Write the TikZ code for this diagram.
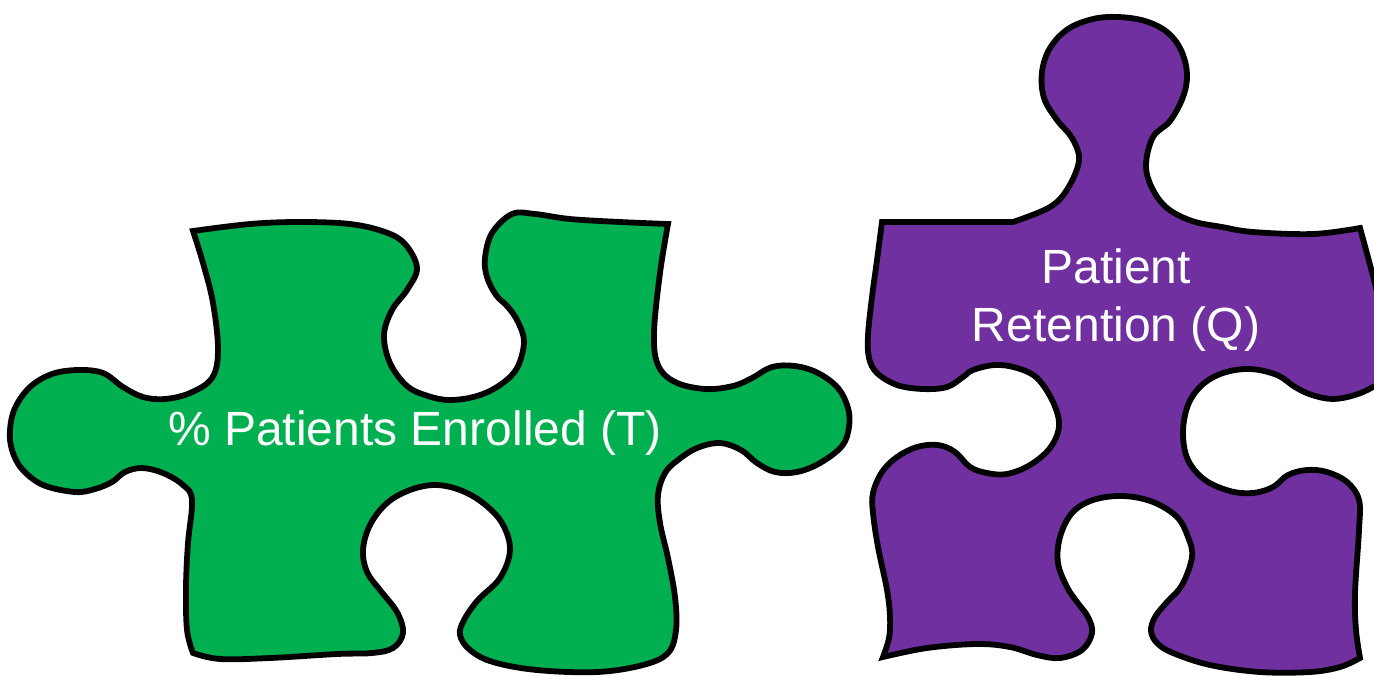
\documentclass[tikz,border=0pt]{standalone}
\usepackage{fontspec}
\setmainfont{Liberation Sans}
\definecolor{pgreen}{RGB}{0,176,80}
\definecolor{ppurple}{RGB}{112,48,160}
\tikzset{piece/.style={draw=black,line width=2.9pt,line join=miter,miter limit=10},
 edgecurve/.style={smooth,tension=0.6},
 lbl/.style={text=white,font=\fontsize{24pt}{29pt}\selectfont,align=center,inner sep=0pt}}
\begin{document}
\begin{tikzpicture}[x=0.5pt,y=-0.5pt]
\useasboundingbox (0,0) rectangle (1374,675);
\fill[white] (0,0) rectangle (1374,675);
\begin{scope}
\clip (0,0) rectangle (1374,675);
\path[piece,fill=pgreen]
 plot[edgecurve] coordinates {(193,231)(250,224)(300,222)(350,224)(385,232)(405,244)(417,268)(407,290)(392,310)(384,335)(390,363)(407,386)(428,396)(450,400)(477,396)(500,385)(517,368)(524,342)(518,322)(508,307)(496,295)(487,277)(485,258)(492,233)(512,214)(535,214)(570,219)(620,222)(668,224)}
 -- plot[edgecurve] coordinates {(668,224)(660,273)(654,333)(658,365)(675,382)(705,389)(733,386)(752,378)(772,367)(795,366)(818,373)(838,388)(848,408)(849,427)(842,446)(820,463)(797,472)(775,472)(757,463)(741,450)(720,443)(697,448)(678,460)(665,473)(658,495)(660,523)(668,558)(675,597)(676,630)(668,653)(643,665)(597,672)(537,670)(493,662)(470,650)(460,635)(464,620)(478,600)(500,578)(510,550)(502,523)(483,503)(460,490)(435,485)(410,490)(387,503)(370,525)(363,550)(367,572)(380,590)(397,612)(403,633)(393,648)(372,653)(337,654)(270,658)(220,659)(193,653)}
 -- plot[edgecurve] coordinates {(193,653)(187,630)(186,587)(188,543)(192,500)(183,485)(163,473)(142,468)(125,472)(112,482)(95,489)(75,492)(43,485)(22,469)(12,450)(10,430)(15,408)(30,387)(52,374)(78,370)(103,373)(123,387)(143,397)(165,399)(190,393)(212,378)(218,350)(213,303)(203,263)(193,231)}
 -- cycle;
\path[piece,fill=ppurple]
 plot[edgecurve] coordinates {(882,222)(1013,222)}
 -- plot[edgecurve] coordinates {(1013,222)(1050,207)(1068,188)(1079,160)(1072,138)(1057,120)(1044,98)(1042,72)(1050,48)(1068,29)(1093,19)(1118,17)(1145,21)(1167,32)(1181,50)(1187,74)(1183,97)(1170,121)(1153,137)(1146,165)(1152,188)(1167,208)(1192,221)(1222,227)(1253,232)(1313,234)(1360,228)}
 -- plot[edgecurve] coordinates {(1360,228)(1374,280)(1386,330)(1392,375)(1373,387)(1355,395)(1333,399)(1312,395)(1295,387)(1277,375)(1250,369)(1223,373)(1202,385)(1188,405)(1183,433)(1188,460)(1205,480)(1230,491)(1253,493)(1273,487)(1288,475)(1307,470)(1327,472)(1347,482)(1359,500)(1359,530)(1355,593)(1356,630)(1360,658)}
 -- plot[edgecurve] coordinates {(1360,658)(1340,667)(1310,672)(1260,672)(1210,665)(1173,653)(1157,643)(1151,631)(1155,617)(1167,602)(1182,585)(1192,557)(1188,537)(1177,517)(1153,502)(1123,496)(1093,500)(1072,513)(1060,537)(1058,563)(1067,587)(1077,602)(1088,617)(1092,633)(1082,650)(1060,658)(1037,655)(1010,647)(977,644)(927,648)(883,657)}
 -- plot[edgecurve] coordinates {(883,657)(889,638)(890,617)(887,590)(878,547)(873,513)(873,493)(882,472)(897,457)(917,447)(938,445)(955,452)(970,467)(987,473)(1007,474)(1030,465)(1050,448)(1059,426)(1053,402)(1037,378)(1017,368)(995,365)(973,370)(963,377)(947,387)(923,389)(897,385)(877,373)(869,358)(868,335)(872,297)(877,260)(882,222)}
 -- cycle;
\end{scope}
\node[lbl,anchor=base] (tlabel) at (415,445) {\% Patients Enrolled (T)};
\node[lbl,anchor=base] (qlabel1) at (1116,283) {Patient};
\node[lbl,anchor=base] (qlabel2) at (1116,341) {Retention (Q)};
\end{tikzpicture}
\end{document}
